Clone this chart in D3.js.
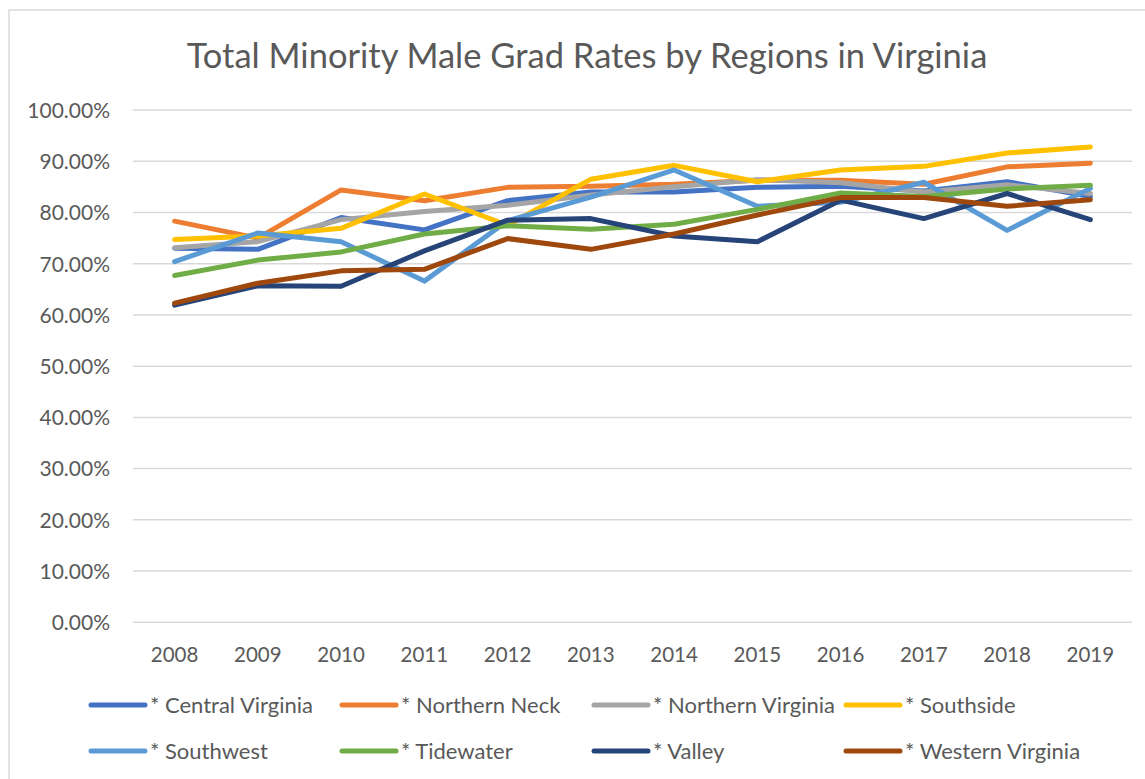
<!DOCTYPE html>
<html>
<head>
<meta charset="utf-8">
<script src="https://cdn.jsdelivr.net/npm/d3@7"></script>
<style>
  html, body { margin: 0; padding: 0; background: #ffffff; }
  svg { display: block; font-family: Lato, "Open Sans", sans-serif; }
</style>
</head>
<body>
<svg id="chart" width="1145" height="779"></svg>
<script>
// School years on the category axis
const years = ["2008","2009","2010","2011","2012","2013","2014","2015","2016","2017","2018","2019"];

// Graduation rates (percent) per region
const centralVirginia  = [73.0, 72.8, 79.0, 76.6, 82.3, 84.0, 84.0, 84.9, 85.1, 84.2, 86.0, 83.1];
const northernNeck     = [78.3, 75.0, 84.4, 82.3, 84.9, 85.1, 85.5, 86.3, 86.3, 85.5, 88.9, 89.6];
const northernVirginia = [73.1, 74.3, 78.6, 80.2, 81.4, 83.4, 85.0, 86.4, 85.8, 84.0, 85.4, 83.7];
const southside        = [74.7, 75.4, 76.9, 83.6, 77.5, 86.5, 89.2, 86.0, 88.3, 89.0, 91.6, 92.8];
const southwest        = [70.4, 76.0, 74.3, 66.6, 78.4, 83.0, 88.3, 81.2, 82.0, 85.9, 76.5, 84.7];
const tidewater        = [67.7, 70.7, 72.3, 75.8, 77.4, 76.7, 77.7, 80.6, 83.8, 83.1, 84.6, 85.3];
const valley           = [61.9, 65.7, 65.6, 72.5, 78.5, 78.8, 75.4, 74.3, 82.4, 78.8, 83.7, 78.6];
const westernVirginia  = [62.3, 66.2, 68.6, 68.9, 74.9, 72.8, 75.8, 79.5, 82.9, 82.9, 81.2, 82.5];

const seriesNames = ["* Central Virginia","* Northern Neck","* Northern Virginia","* Southside",
                     "* Southwest","* Tidewater","* Valley","* Western Virginia"];
const seriesValues = [centralVirginia, northernNeck, northernVirginia, southside,
                      southwest, tidewater, valley, westernVirginia];
const seriesColors = ["#4472C4","#ED7D31","#A5A5A5","#FFC000","#5B9BD5","#70AD47","#264478","#9E480E"];

// Value axis ticks
const yTicks = [0, 10, 20, 30, 40, 50, 60, 70, 80, 90, 100];

const svg = d3.select("#chart");
const textColor = "#595959";
const gridColor = "#d9d9d9";

// Chart frame
svg.append("rect")
  .attr("x", 9).attr("y", 10)
  .attr("width", 1160).attr("height", 800)
  .attr("fill", "#ffffff")
  .attr("stroke", gridColor)
  .attr("stroke-width", 1.5);

// Title
svg.append("text")
  .attr("x", 587).attr("y", 68)
  .attr("text-anchor", "middle")
  .attr("font-size", 34.5)
  .attr("fill", textColor)
  .text("Total Minority Male Grad Rates by Regions in Virginia");

// Scales
const x = d3.scaleBand().domain(years).range([133, 1132]);
const xc = d => x(d) + x.bandwidth() / 2;
const y = d3.scaleLinear().domain([0, 100]).range([622.3, 110]);

// Horizontal gridlines
svg.append("g")
  .selectAll("line")
  .data(yTicks)
  .join("line")
  .attr("x1", 133).attr("x2", 1132)
  .attr("y1", d => y(d)).attr("y2", d => y(d))
  .attr("stroke", gridColor)
  .attr("stroke-width", 1.5);

// Y axis labels
const yAxis = d3.axisLeft(y)
  .tickValues(yTicks)
  .tickSize(0)
  .tickPadding(0)
  .tickFormat(d => d.toFixed(2) + "%");
const yg = svg.append("g").attr("transform", "translate(110,0)").call(yAxis);
yg.select(".domain").remove();
yg.selectAll("text")
  .attr("font-family", "Lato, 'Open Sans', sans-serif")
  .attr("font-size", 21)
  .attr("fill", textColor)
  .attr("dy", "0.35em");

// X axis labels
const xAxis = d3.axisBottom(x).tickSize(0).tickPadding(0);
const xg = svg.append("g").attr("transform", "translate(0,662)").call(xAxis);
xg.select(".domain").remove();
xg.selectAll("text")
  .attr("font-family", "Lato, 'Open Sans', sans-serif")
  .attr("font-size", 20.5)
  .attr("fill", textColor)
  .attr("dy", 0);

// Series lines
const line = d3.line()
  .x((d, i) => xc(years[i]))
  .y(d => y(d));

svg.append("g")
  .selectAll("path")
  .data(seriesValues)
  .join("path")
  .attr("d", d => line(d))
  .attr("fill", "none")
  .attr("stroke", (d, i) => seriesColors[i])
  .attr("stroke-width", 5)
  .attr("stroke-linecap", "round")
  .attr("stroke-linejoin", "round");

// Legend
const legendCols = [91, 342, 594, 846];
const legendRows = [705, 751];
const legend = svg.append("g")
  .selectAll("g")
  .data(seriesNames)
  .join("g")
  .attr("transform", (d, i) => `translate(${legendCols[i % 4]},${legendRows[Math.floor(i / 4)]})`);

legend.append("line")
  .attr("x1", 0).attr("x2", 54)
  .attr("y1", 0).attr("y2", 0)
  .attr("stroke", (d, i) => seriesColors[i])
  .attr("stroke-width", 5)
  .attr("stroke-linecap", "round");

legend.append("text")
  .attr("x", 59).attr("y", 0)
  .attr("dy", "0.35em")
  .attr("font-size", 22)
  .attr("fill", textColor)
  .text(d => d);
</script>
</body>
</html>
